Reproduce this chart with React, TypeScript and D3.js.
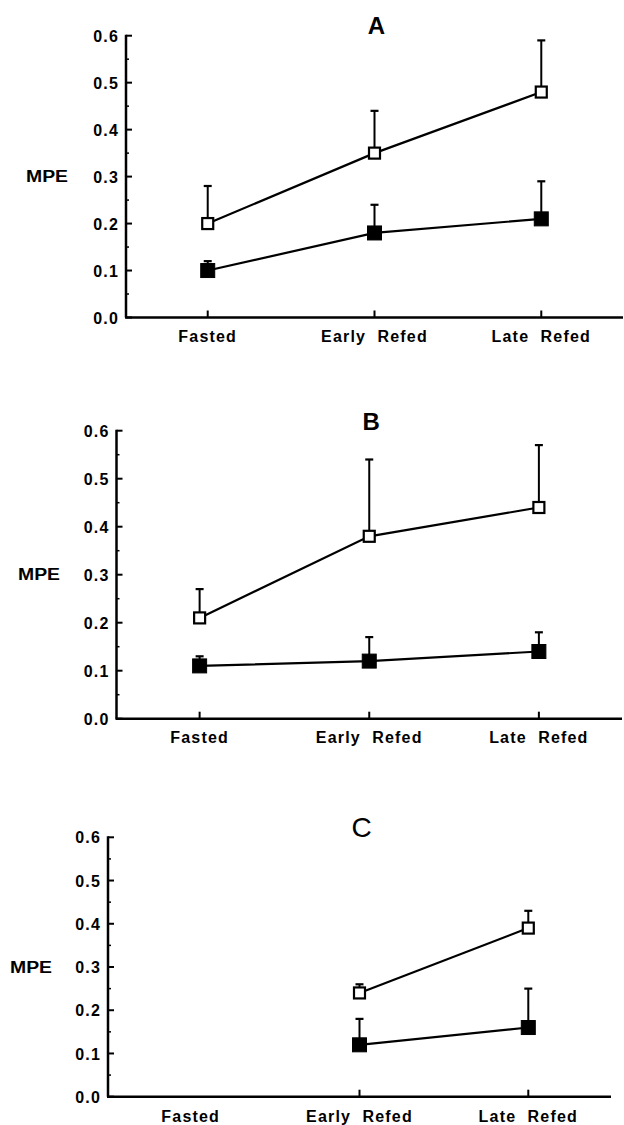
import React from 'react';
import * as d3 from 'd3';

const categories = ['Fasted', 'Early  Refed', 'Late  Refed'];
const yTicks = [0, 0.1, 0.2, 0.3, 0.4, 0.5, 0.6];
const yMinorTicks = [0.05, 0.15, 0.25, 0.35, 0.45, 0.55];

// panel A
const aOpen = [0.20, 0.35, 0.48];
const aOpenErr = [0.08, 0.09, 0.11];
const aFilled = [0.10, 0.18, 0.21];
const aFilledErr = [0.02, 0.06, 0.08];

// panel B
const bOpen = [0.21, 0.38, 0.44];
const bOpenErr = [0.06, 0.16, 0.13];
const bFilled = [0.11, 0.12, 0.14];
const bFilledErr = [0.02, 0.05, 0.04];

// panel C (no fasted group)
const cOpen = [null, 0.24, 0.39];
const cOpenErr = [null, 0.02, 0.04];
const cFilled = [null, 0.12, 0.16];
const cFilledErr = [null, 0.06, 0.09];

type Val = number | null;

interface PanelProps {
  title: string;
  left: number;
  right: number;
  top: number;
  bottom: number;
  titleY: number;
  titleSize: number;
  titleWeight: string;
  mpeX: number;
  labelY: number;
  open: Val[];
  openErr: Val[];
  filled: Val[];
  filledErr: Val[];
  tickCats: string[];
}

const FONT = '"Liberation Sans", Arial, Helvetica, sans-serif';

const Panel: React.FC<PanelProps> = (p) => {
  const x = d3.scalePoint<string>().domain(categories).range([p.left, p.right]).padding(0.49);
  const y = d3.scaleLinear().domain([0, 0.6]).range([p.bottom, p.top]);

  const series = [
    { vals: p.open, errs: p.openErr, fill: 'white', size: 11 },
    { vals: p.filled, errs: p.filledErr, fill: 'black', size: 14 },
  ];

  const line = d3.line<{ c: string; v: number }>()
    .x(d => x(d.c) as number)
    .y(d => y(d.v));

  const midX = (x(categories[1]) as number) + 2;

  return (
    <g>
      <text x={midX} y={p.titleY} textAnchor="middle" fontSize={p.titleSize} fontFamily={FONT} fontWeight={p.titleWeight}>{p.title}</text>
      <text x={p.mpeX} y={y(0.3)} dy="0.36em" fontSize={16} fontFamily={FONT} fontWeight="bold" textLength={42} lengthAdjust="spacingAndGlyphs">MPE</text>

      {/* y axis */}
      <line x1={p.left} x2={p.left} y1={p.top - 1} y2={p.bottom} stroke="black" strokeWidth={2.5} />
      {yTicks.map(t => (
        <g key={t}>
          <line x1={p.left} x2={p.left + 6} y1={y(t)} y2={y(t)} stroke="black" strokeWidth={2} />
          <text x={p.left - 7} y={y(t)} dy="0.38em" textAnchor="end" fontSize={16} fontFamily={FONT} fontWeight="bold" letterSpacing={1.2}>{t.toFixed(1)}</text>
        </g>
      ))}
      {yMinorTicks.map(t => (
        <line key={t} x1={p.left} x2={p.left + 3} y1={y(t)} y2={y(t)} stroke="black" strokeWidth={1.5} />
      ))}

      {/* x axis */}
      <line x1={p.left - 1} x2={p.right} y1={p.bottom} y2={p.bottom} stroke="black" strokeWidth={2.5} />
      {p.tickCats.map(c => (
        <line key={c} x1={x(c)} x2={x(c)} y1={p.bottom} y2={p.bottom - 7} stroke="black" strokeWidth={2} />
      ))}
      {categories.map(c => (
        <text key={c} x={x(c)} y={p.labelY} textAnchor="middle" fontSize={16} fontFamily={FONT} fontWeight="bold" letterSpacing={1.2} style={{ whiteSpace: 'pre' }}>{c}</text>
      ))}

      {series.map((s, si) => {
        const pts = categories
          .map((c, i) => ({ c, v: s.vals[i] as number, e: s.errs[i] as number }))
          .filter(d => d.v !== null && d.v !== undefined);
        return (
          <g key={si}>
            {pts.map(d => (
              <g key={d.c}>
                <line x1={x(d.c)} x2={x(d.c)} y1={y(d.v)} y2={y(d.v + d.e)} stroke="black" strokeWidth={2} />
                <line x1={(x(d.c) as number) - 4} x2={(x(d.c) as number) + 4} y1={y(d.v + d.e)} y2={y(d.v + d.e)} stroke="black" strokeWidth={2.2} />
              </g>
            ))}
            <path d={line(pts) || ''} fill="none" stroke="black" strokeWidth={2.2} />
            {pts.map(d => (
              <rect key={d.c}
                x={(x(d.c) as number) - s.size / 2}
                y={y(d.v) - s.size / 2}
                width={s.size}
                height={s.size}
                fill={s.fill}
                stroke="black"
                strokeWidth={s.fill === 'white' ? 2.2 : 1} />
            ))}
          </g>
        );
      })}
    </g>
  );
};

export default function App() {
  return (
    <svg width={624} height={1125} style={{ position: 'absolute', left: 0, top: 0, background: 'white' }}>
      <rect width={624} height={1125} fill="white" />
      <Panel title="A" left={126} right={623} top={35.7} bottom={317.5} titleY={34} titleSize={24} titleWeight="bold" mpeX={26} labelY={342}
        open={aOpen} openErr={aOpenErr} filled={aFilled} filledErr={aFilledErr} tickCats={categories} />
      <Panel title="B" left={116.5} right={622} top={430.7} bottom={718.7} titleY={430} titleSize={24} titleWeight="bold" mpeX={18} labelY={743}
        open={bOpen} openErr={bOpenErr} filled={bFilled} filledErr={bFilledErr} tickCats={categories} />
      <Panel title="C" left={108} right={611} top={837.3} bottom={1096.7} titleY={837} titleSize={28} titleWeight="normal" mpeX={10} labelY={1122}
        open={cOpen} openErr={cOpenErr} filled={cFilled} filledErr={cFilledErr} tickCats={categories.slice(1)} />
    </svg>
  );
}
